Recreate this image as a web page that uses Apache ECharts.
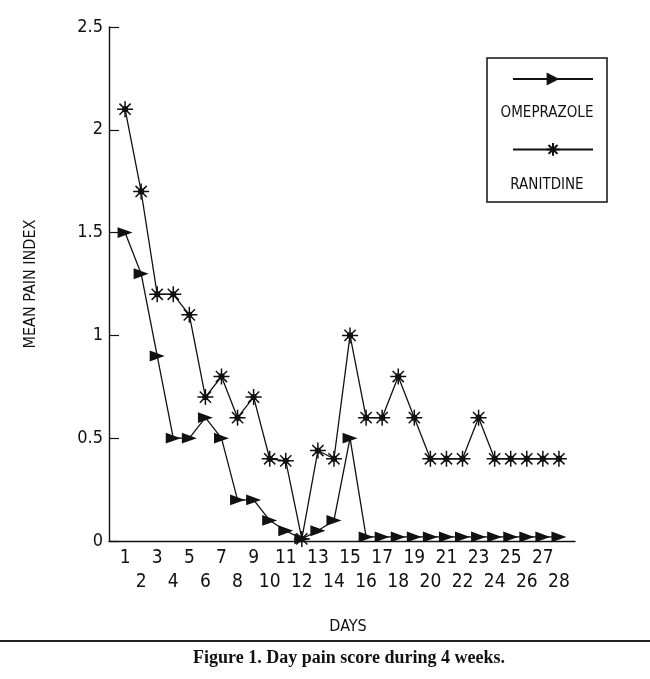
<!doctype html>
<html lang="en">
  <head>
    <meta charset="UTF-8" />
    <title>Day pain score</title>
    <script src="https://cdn.jsdelivr.net/npm/echarts@6/dist/echarts.min.js"></script>
    <style>
      body { margin: 0; padding: 0; background: #fff; }
      .main { width: 650px; height: 679px; }
    </style>
  </head>
  <body>
    <div class="main"></div>
  </body>
  <script>
    // data
    const days = [1, 2, 3, 4, 5, 6, 7, 8, 9, 10, 11, 12, 13, 14, 15, 16, 17, 18, 19, 20, 21, 22, 23, 24, 25, 26, 27, 28];
    const omeprazole = [1.5, 1.3, 0.9, 0.5, 0.5, 0.6, 0.5, 0.2, 0.2, 0.1, 0.05, 0.01, 0.05, 0.1, 0.5,
      0.02, 0.02, 0.02, 0.02, 0.02, 0.02, 0.02, 0.02, 0.02, 0.02, 0.02, 0.02, 0.02];
    const ranitdine = [2.1, 1.7, 1.2, 1.2, 1.1, 0.7, 0.8, 0.6, 0.7, 0.4, 0.39, 0.01, 0.44, 0.4, 1.0,
      0.6, 0.6, 0.8, 0.6, 0.4, 0.4, 0.4, 0.6, 0.4, 0.4, 0.4, 0.4, 0.4];
    const yTicks = [0, 0.5, 1, 1.5, 2, 2.5];

    const narrow = "'Liberation Sans Narrow', 'DejaVu Sans Condensed', sans-serif";
    const ink = "#111";

    // right pointing triangle and an asterisk with a dot in the middle
    const triangle = "path://M0,0L12,5L0,10Z";
    const star =
      "path://M0,-10L0,10M-10,0L10,0M-7,-7L7,7M-7,7L7,-7M-3,0A3,3 0 1,0 3,0A3,3 0 1,0 -3,0Z";

    const chart = echarts.init(document.querySelector(".main"));

    const option = {
      backgroundColor: "#fff",
      animation: false,
      grid: { left: 109, right: 75, top: 27, bottom: 138 },
      xAxis: {
        type: "value",
        min: 0,
        max: 29,
        interval: 1,
        name: "DAYS",
        nameLocation: "middle",
        nameGap: 78,
        nameTextStyle: { fontFamily: narrow, fontSize: 16, color: ink, padding: [0, 0, 0, 12] },
        axisLine: { lineStyle: { color: ink, width: 1.4 } },
        axisTick: { show: false },
        splitLine: { show: false },
        axisLabel: {
          margin: 5,
          fontFamily: narrow,
          fontSize: 19,
          lineHeight: 24,
          color: ink,
          formatter: (v) => {
            if (days.indexOf(v) < 0) return "";
            return v % 2 === 1 ? String(v) : "\n" + v;
          },
        },
      },
      yAxis: {
        type: "value",
        min: 0,
        max: 2.5,
        interval: 0.5,
        name: "MEAN PAIN INDEX",
        nameLocation: "middle",
        nameGap: 70,
        nameTextStyle: { fontFamily: narrow, fontSize: 16, color: ink },
        axisLine: { show: true, lineStyle: { color: ink, width: 1.4 } },
        axisTick: { show: true, inside: true, length: 10, lineStyle: { color: ink, width: 1.2 } },
        splitLine: { show: false },
        axisLabel: {
          margin: 6,
          fontFamily: narrow,
          fontSize: 18,
          color: ink,
          formatter: (v) => (yTicks.indexOf(v) >= 0 ? String(v) : ""),
        },
      },
      legend: {
        orient: "vertical",
        left: 507,
        top: 66,
        itemWidth: 80,
        itemHeight: 16,
        itemGap: 56,
        formatter: () => "",
        selectedMode: false,
        data: ["OMEPRAZOLE", "RANITDINE"],
      },
      graphic: [
        {
          type: "rect",
          shape: { x: 487, y: 58, width: 120, height: 144 },
          style: { fill: "none", stroke: ink, lineWidth: 1.5 },
        },
        {
          type: "text",
          x: 547,
          y: 113,
          style: { text: "OMEPRAZOLE", fontFamily: narrow, fontSize: 15, fill: ink, align: "center", verticalAlign: "middle" },
        },
        {
          type: "text",
          x: 547,
          y: 185,
          style: { text: "RANITDINE", fontFamily: narrow, fontSize: 15, fill: ink, align: "center", verticalAlign: "middle" },
        },
        {
          type: "line",
          shape: { x1: 0, y1: 641, x2: 650, y2: 641 },
          style: { stroke: "#222", lineWidth: 2 },
        },
        {
          type: "text",
          x: 349,
          y: 658,
          style: {
            text: "Figure 1. Day pain score during 4 weeks.",
            fontFamily: "'Liberation Serif', 'DejaVu Serif', serif",
            fontWeight: "bold",
            fontSize: 18,
            fill: ink,
            align: "center",
            verticalAlign: "middle",
          },
        },
      ],
      series: [
        {
          name: "OMEPRAZOLE",
          type: "line",
          data: days.map((d, i) => [d, omeprazole[i]]),
          symbol: triangle,
          symbolSize: [15, 13],
          symbolKeepAspect: true,
          lineStyle: { color: ink, width: 1.3 },
          itemStyle: { color: ink },
        },
        {
          name: "RANITDINE",
          type: "line",
          data: days.map((d, i) => [d, ranitdine[i]]),
          symbol: star,
          symbolSize: 16,
          symbolKeepAspect: true,
          lineStyle: { color: ink, width: 1.3 },
          itemStyle: { color: ink, borderColor: ink, borderWidth: 1.5 },
        },
      ],
    };

    chart.setOption(option);
  </script>
</html>
